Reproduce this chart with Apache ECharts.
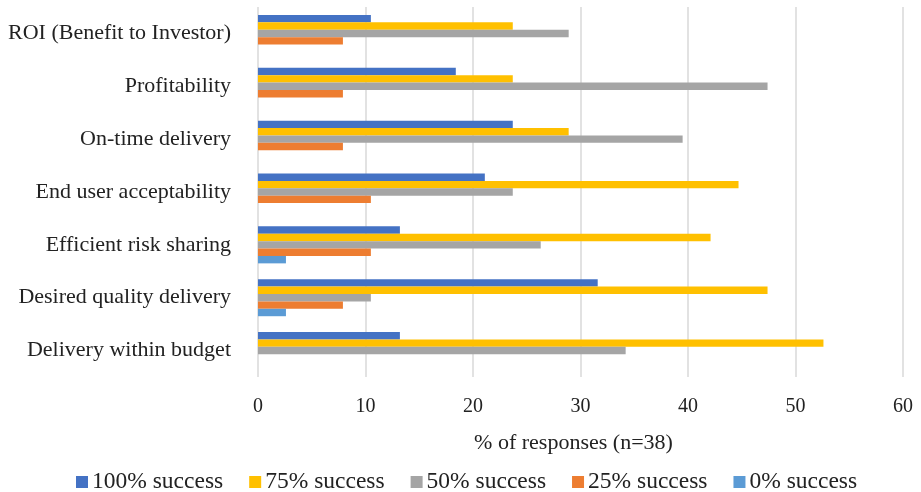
<!DOCTYPE html>
<html>
<head>
<meta charset="utf-8">
<script src="https://cdn.jsdelivr.net/npm/echarts@6/dist/echarts.min.js"></script>
<style>
  html, body { margin: 0; padding: 0; background: #fff; }
  #chart { width: 921px; height: 492px; }
</style>
</head>
<body>
<div id="chart"></div>
<script>
// categories, top to bottom
const categories = [
  'ROI (Benefit to Investor)',
  'Profitability',
  'On-time delivery',
  'End user acceptability',
  'Efficient risk sharing',
  'Desired quality delivery',
  'Delivery within budget',
]
const seriesNames = ['100% success', '75% success', '50% success', '25% success', '0% success']
const success100 = [10.5, 18.4, 23.7, 21.1, 13.2, 31.6, 13.2]
const success75 = [23.7, 23.7, 28.9, 44.7, 42.1, 47.4, 52.6]
const success50 = [28.9, 47.4, 39.5, 23.7, 26.3, 10.5, 34.2]
const success25 = [7.9, 7.9, 7.9, 10.5, 10.5, 7.9, 0]
const success0 = [0, 0, 0, 0, 2.6, 2.6, 0]
const xTicks = [0, 10, 20, 30, 40, 50, 60]

const colors = ['#4472C4', '#FFC000', '#A5A5A5', '#ED7D31', '#5B9BD5']
const values = [success100, success75, success50, success25, success0]
const font = '"Liberation Serif", "Times New Roman", serif'

const chart = echarts.init(document.getElementById('chart'))
chart.setOption({
  animation: false,
  color: colors,
  textStyle: { fontFamily: font },
  grid: { left: 258, right: 18, top: 7, bottom: 115 },
  legend: {
    data: seriesNames,
    top: 465,
    left: 71,
    padding: 5,
    itemWidth: 12,
    itemHeight: 12,
    itemGap: 26,
    icon: 'rect',
    textStyle: { fontFamily: font, fontSize: 23.5, color: '#222', padding: [0, 0, 0, -1] },
  },
  xAxis: {
    type: 'value',
    min: xTicks[0],
    max: xTicks[xTicks.length - 1],
    interval: 10,
    name: '% of responses (n=38)',
    nameLocation: 'middle',
    nameGap: 55,
    nameTextStyle: { fontFamily: font, fontSize: 22, color: '#222', padding: [0, 14, 0, 0] },
    axisLine: { show: false },
    axisTick: { show: false },
    axisLabel: { fontFamily: font, fontSize: 20, color: '#222', margin: 20 },
    splitLine: { lineStyle: { color: '#d9d9d9', width: 1.5 } },
  },
  yAxis: {
    type: 'category',
    data: categories,
    inverse: true,
    axisLine: { show: false },
    axisTick: { show: false },
    axisLabel: { fontFamily: font, fontSize: 22, color: '#222', margin: 27 },
  },
  series: seriesNames.map((name, i) => ({
    name,
    type: 'bar',
    data: values[i],
    barWidth: 7.4,
    barGap: '0%',
    barCategoryGap: '30%',
  })),
})
</script>
</body>
</html>
